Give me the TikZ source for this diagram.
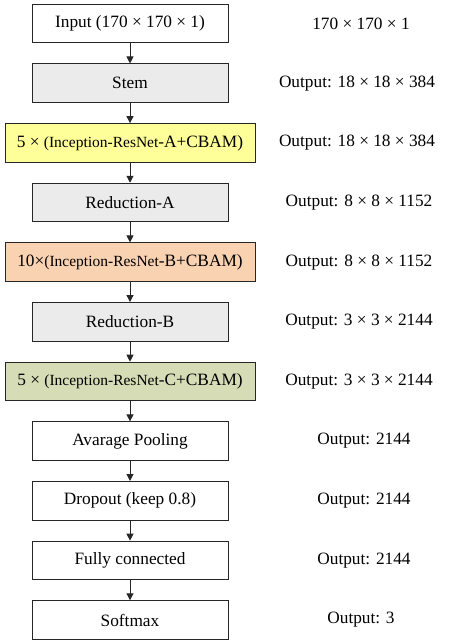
\documentclass[tikz,border=0pt]{standalone}
\usepackage{fontspec}
\setmainfont{Liberation Serif}
\usetikzlibrary{arrows.meta}
\definecolor{stemgray}{HTML}{EBEBEB}
\definecolor{blockA}{HTML}{FFFF99}
\definecolor{blockB}{HTML}{F9D2B1}
\definecolor{blockC}{HTML}{D6DDB6}
\newcommand{\bigtxt}{\fontsize{17.3}{20}\selectfont}
\newcommand{\smalltxt}{\fontsize{15.5}{18}\selectfont}
\tikzset{
  x=1pt, y=1pt,
  layer/.style={draw=black!85, line width=1pt, minimum width=196pt, minimum height=38.5pt,
    inner sep=0pt, anchor=center, font=\bigtxt},
  widelayer/.style={layer, minimum width=250pt},
  outlabel/.style={anchor=center, font=\bigtxt, inner sep=0pt},
  flow/.style={draw=black!85, line width=1pt, -{Triangle[width=7pt,length=7pt]}}
}
\begin{document}
\begin{tikzpicture}
\useasboundingbox (0,0) rectangle (448,-643);
% blocks, top to bottom, centred on one axis
\node[layer] (in) at (130,-23.55) {Input (170 × 170 × 1)};
\node[layer, fill=stemgray] (stem) at (130,-83.2) {Stem};
\node[widelayer, fill=blockA] (ira) at (130,-142.85) {5 × {\smalltxt (Inception-ResNet}-A+CBAM)};
\node[layer, fill=stemgray] (reda) at (130,-202.5) {Reduction-A};
\node[widelayer, fill=blockB] (irb) at (130,-262.15) {10×{\smalltxt (Inception-ResNet}-B+CBAM)};
\node[layer, fill=stemgray] (redb) at (130,-321.8) {Reduction-B};
\node[widelayer, fill=blockC] (irc) at (130,-381.45) {5 × {\smalltxt (Inception-ResNet}-C+CBAM)};
\node[layer] (pool) at (130,-441.1) {Avarage Pooling};
\node[layer] (drop) at (130,-500.75) {Dropout (keep 0.8)};
\node[layer] (fc) at (130,-560.4) {Fully connected};
\node[layer] (soft) at (130,-620.05) {Softmax};
% output sizes
\node[outlabel] (o0) at (361,-23.55) {170 × 170 × 1};
\node[outlabel] (o1) at (357,-83.2) {Output: 18 × 18 × 384};
\node[outlabel] (o2) at (357,-142.85) {Output: 18 × 18 × 384};
\node[outlabel] (o3) at (359,-202.5) {Output: 8 × 8 × 1152};
\node[outlabel] (o4) at (359,-262.15) {Output: 8 × 8 × 1152};
\node[outlabel] (o5) at (359,-321.8) {Output: 3 × 3 × 2144};
\node[outlabel] (o6) at (359,-381.45) {Output: 3 × 3 × 2144};
\node[outlabel] (o7) at (364,-441.1) {Output: 2144};
\node[outlabel] (o8) at (364,-500.75) {Output: 2144};
\node[outlabel] (o9) at (364,-560.4) {Output: 2144};
\node[outlabel] (o10) at (361,-620.05) {Output: 3};
% arrows between consecutive blocks
\foreach \a/\b in {in/stem, stem/ira, ira/reda, reda/irb, irb/redb, redb/irc, irc/pool, pool/drop, drop/fc, fc/soft}
  \draw[flow] (\a.south) -- (\b.north);
\end{tikzpicture}
\end{document}
